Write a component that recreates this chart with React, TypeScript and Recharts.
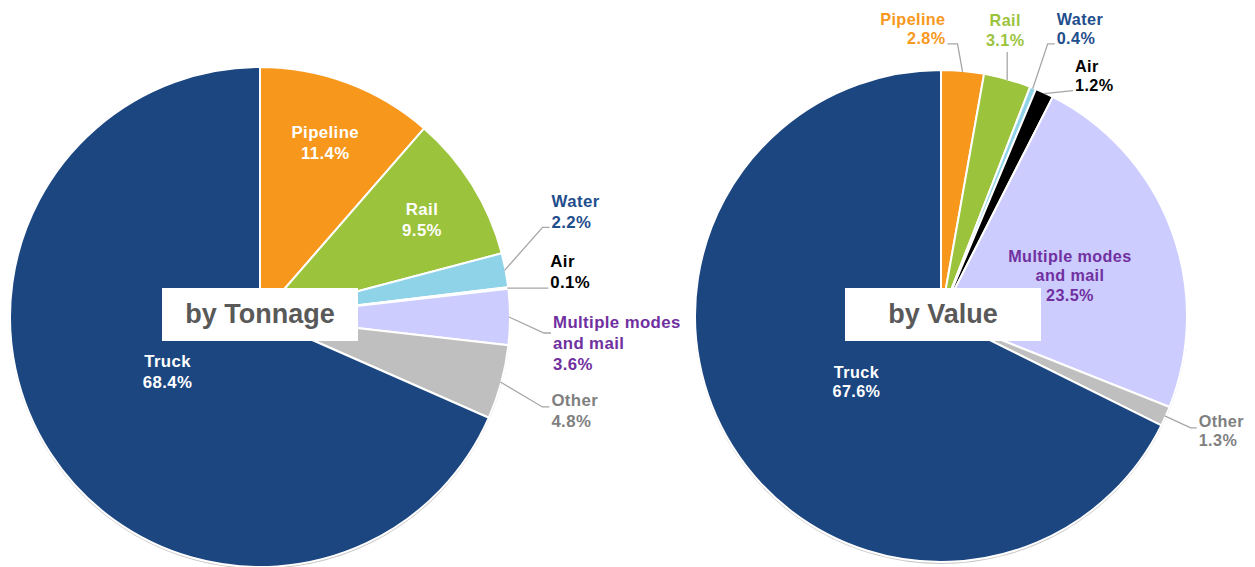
import { PieChart, Pie, Cell } from 'recharts'

const categories = ['Pipeline', 'Rail', 'Water', 'Air', 'Multiple modes and mail', 'Other', 'Truck']
const tonnageShares = [11.4, 9.5, 2.2, 0.1, 3.6, 4.8, 68.4]
const valueShares = [2.8, 3.1, 0.4, 1.2, 23.5, 1.3, 67.6]
const sliceColors = ['#F7981D', '#9BC33C', '#8FD3E8', '#000000', '#CCCCFF', '#BFBFBF', '#1B4680']
const outsideTextColors = ['#F7981D', '#9BC33C', '#1F4E8C', '#000000', '#7030A0', '#7F7F7F', '#1B4680']
const nameLines: Record<string, string[]> = {
  'Multiple modes and mail': ['Multiple modes', 'and mail'],
}

type InCfg = { kind: 'in'; r: number; da?: number; color: string }
type OutCfg = { kind: 'out'; ex: number; ey: number; h: number; ty: number; anchor: 'start' | 'middle' | 'end' }
type LabelCfg = InCfg | OutCfg

// label placement per slice (offsets relative to the slice edge)
const tonnageLabels: Record<string, LabelCfg> = {
  Pipeline: { kind: 'in', r: 0.745, color: '#fff' },
  Rail: { kind: 'in', r: 0.755, da: 1, color: '#fff' },
  Water: { kind: 'out', ex: 38, ey: -43, h: 7, ty: -26, anchor: 'start' },
  Air: { kind: 'out', ex: 39, ey: 0, h: 2, ty: -27, anchor: 'start' },
  'Multiple modes and mail': { kind: 'out', ex: 35, ey: 16, h: 7, ty: -11, anchor: 'start' },
  Other: { kind: 'out', ex: 42, ey: 25, h: 7, ty: -6, anchor: 'start' },
  Truck: { kind: 'in', r: 0.43, da: 2.4, color: '#fff' },
}

const valueLabels: Record<string, LabelCfg> = {
  Pipeline: { kind: 'out', ex: -5, ey: -28, h: -10, ty: -25, anchor: 'end' },
  Rail: { kind: 'out', ex: 0, ey: -28, h: 0, ty: -32, anchor: 'middle' },
  Water: { kind: 'out', ex: 15, ey: -45, h: 7, ty: -25, anchor: 'start' },
  Air: { kind: 'out', ex: 29, ey: -3, h: 0, ty: -25, anchor: 'start' },
  'Multiple modes and mail': { kind: 'in', r: 0.55, da: 3, color: '#7030A0' },
  Other: { kind: 'out', ex: 26, ey: 12, h: 6, ty: -7, anchor: 'start' },
  Truck: { kind: 'in', r: 0.435, da: -6, color: '#fff' },
}

const RAD = Math.PI / 180
const FONT = '"Liberation Sans", Arial, sans-serif'

const makeLabel = (layout: Record<string, LabelCfg>, fontSize: number, lh: number) => (props: any) => {
  const { cx, cy, midAngle, outerRadius, value } = props
  const name: string = props.payload?.name ?? props.name
  const cfg = layout[name]
  if (!cfg) return null
  const idx = categories.indexOf(name)
  const lines = [...(nameLines[name] ?? [name]), `${Number(value).toFixed(1)}%`]
  const textStyle = { fontFamily: FONT, fontWeight: 700, fontSize, letterSpacing: 0.4 }

  if (cfg.kind === 'in') {
    const a = (midAngle - (cfg.da ?? 0)) * RAD
    const x = cx + outerRadius * cfg.r * Math.cos(a)
    const y = cy - outerRadius * cfg.r * Math.sin(a)
    const top = y - ((lines.length - 1) * lh) / 2
    return (
      <text textAnchor="middle" fill={cfg.color} style={textStyle}>
        {lines.map((l, i) => (
          <tspan key={i} x={x} y={top + i * lh} dominantBaseline="central">{l}</tspan>
        ))}
      </text>
    )
  }

  const a = midAngle * RAD
  const ex = cx + (outerRadius - 1) * Math.cos(a)
  const ey = cy - (outerRadius - 1) * Math.sin(a)
  const bx = ex + cfg.ex
  const by = ey + cfg.ey
  const tx = bx + cfg.h
  const gap = cfg.anchor === 'start' ? 2 : cfg.anchor === 'end' ? -2 : -2
  const textX = tx + gap
  const textTop = by + cfg.ty
  return (
    <g>
      <polyline points={`${ex},${ey} ${bx},${by} ${tx},${by}`} fill="none" stroke="#A6A6A6" strokeWidth={1.3} />
      <text textAnchor={cfg.anchor} fill={outsideTextColors[idx]} style={textStyle}>
        {lines.map((l, i) => (
          <tspan key={i} x={textX} y={textTop + i * lh} dominantBaseline="central">{l}</tspan>
        ))}
      </text>
    </g>
  )
}

const tonnageData = categories.map((name, i) => ({ name, value: tonnageShares[i] }))
const valueData = categories.map((name, i) => ({ name, value: valueShares[i] }))
const ring = [{ name: 'ring', value: 1 }]

const boxStyle = (left: number): React.CSSProperties => ({
  position: 'absolute',
  left,
  top: 288,
  width: 196,
  height: 53,
  background: '#fff',
  color: '#595959',
  fontFamily: FONT,
  fontWeight: 700,
  fontSize: 27,
  display: 'flex',
  alignItems: 'center',
  justifyContent: 'center',
})

export default function App() {
  return (
    <div style={{ position: 'absolute', left: 0, top: 0, width: 1255, height: 567, background: '#fff' }}>
      <PieChart width={1255} height={567} margin={{ top: 0, right: 0, bottom: 0, left: 0 }}>
        <Pie data={ring} dataKey="value" cx={260} cy={318.5} outerRadius={250.5} fill="#C8C8C8" stroke="none" isAnimationActive={false} />
        <Pie data={ring} dataKey="value" cx={941} cy={317.5} outerRadius={246.5} fill="#C8C8C8" stroke="none" isAnimationActive={false} />
        <Pie
          data={tonnageData}
          dataKey="value"
          nameKey="name"
          cx={260}
          cy={317}
          outerRadius={250}
          startAngle={90}
          endAngle={-270}
          stroke="#fff"
          strokeWidth={2}
          labelLine={false}
          label={makeLabel(tonnageLabels, 16.8, 21)}
          isAnimationActive={false}
        >
          {tonnageData.map((d, i) => (
            <Cell key={d.name} fill={sliceColors[i]} />
          ))}
        </Pie>
        <Pie
          data={valueData}
          dataKey="value"
          nameKey="name"
          cx={941}
          cy={316}
          outerRadius={246}
          startAngle={90}
          endAngle={-270}
          stroke="#fff"
          strokeWidth={2}
          labelLine={false}
          label={makeLabel(valueLabels, 16.2, 19.5)}
          isAnimationActive={false}
        >
          {valueData.map((d, i) => (
            <Cell key={d.name} fill={sliceColors[i]} />
          ))}
        </Pie>
      </PieChart>
      <div style={boxStyle(162)}>by Tonnage</div>
      <div style={boxStyle(845)}>by Value</div>
    </div>
  )
}
